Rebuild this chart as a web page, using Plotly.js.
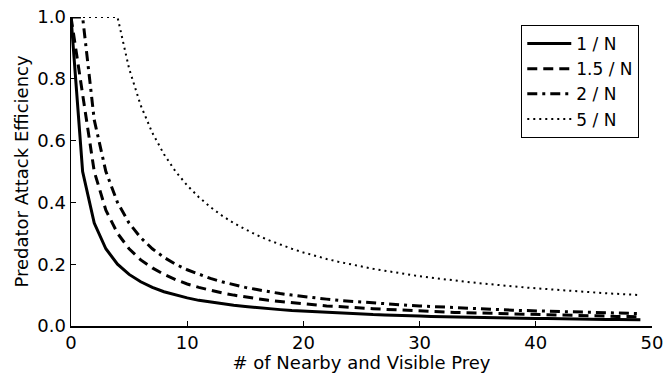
<!DOCTYPE html>
<html>
<head>
<meta charset="utf-8">
<script src="https://cdn.plot.ly/plotly-3.0.1.min.js"></script>
<style>html,body{margin:0;padding:0;background:#fff;}#chart{width:664px;height:373px;}</style>
</head>
<body>
<div id="chart"></div>
<script>
const preyCount = [0,1,2,3,4,5,6,7,8,9,10,11,12,13,14,15,16,17,18,19,20,21,22,23,24,25,26,27,28,29,30,31,32,33,34,35,36,37,38,39,40,41,42,43,44,45,46,47,48,49];
const eff1 = [1,.5,.333,.25,.2,.167,.143,.125,.111,.1,.091,.083,.077,.071,.067,.063,.059,.056,.053,.05,.048,.045,.043,.042,.04,.038,.037,.036,.034,.033,.032,.031,.030,.029,.029,.028,.027,.026,.026,.025,.024,.024,.023,.023,.022,.022,.021,.021,.020,.020];
const eff15 = [1,.75,.5,.375,.3,.25,.214,.188,.167,.15,.136,.125,.115,.107,.1,.094,.088,.083,.079,.075,.071,.068,.065,.063,.06,.058,.056,.054,.052,.05,.048,.047,.045,.044,.043,.042,.041,.039,.038,.038,.037,.036,.035,.034,.033,.033,.032,.031,.031,.03];
const eff2 = [1,1,.667,.5,.4,.333,.286,.25,.222,.2,.182,.167,.154,.143,.133,.125,.118,.111,.105,.1,.095,.091,.087,.083,.08,.077,.074,.071,.069,.067,.065,.063,.061,.059,.057,.056,.054,.053,.051,.05,.049,.048,.047,.045,.044,.043,.043,.042,.041,.04];
const eff5 = [1,1,1,1,1,.833,.714,.625,.556,.5,.455,.417,.385,.357,.333,.313,.294,.278,.263,.25,.238,.227,.217,.208,.2,.192,.185,.179,.172,.167,.161,.156,.152,.147,.143,.139,.135,.132,.128,.125,.122,.119,.116,.114,.111,.109,.106,.104,.102,.1];
const seriesNames = ['1 / N','1.5 / N','2 / N','5 / N'];

const styles = [
  {dash:'solid', width:3},
  {dash:'10px,6px', width:3},
  {dash:'10px,5px,3px,5px', width:3},
  {dash:'2px,4px', width:2}
];
const ys = [eff1, eff15, eff2, eff5];
const traces = ys.map((y,i)=>({
  x: preyCount, y: y, name: seriesNames[i], type:'scatter', mode:'lines',
  line:{color:'#000', width:styles[i].width, dash:styles[i].dash},
  cliponaxis:false
}));

const font = {family:'DejaVu Sans, sans-serif', size:18, color:'#000'};
const layout = {
  width:664, height:373,
  margin:{l:71, r:12, t:17, b:47, pad:0},
  paper_bgcolor:'#fff', plot_bgcolor:'#fff',
  font: font,
  showlegend:true,
  legend:{x:0.775, y:0.974, xanchor:'left', yanchor:'top', bordercolor:'#000', borderwidth:1,
          bgcolor:'#fff', itemwidth:44, font:{family:'DejaVu Sans, sans-serif', size:17, color:'#000'}, tracegroupgap:0},
  xaxis:{range:[0,50], showgrid:false, zeroline:false, showline:true, linecolor:'#000', linewidth:1.5,
         mirror:false, ticks:'inside', ticklen:5, tickcolor:'#000', dtick:10, tick0:0,
         title:{text:'# of Nearby and Visible Prey', font:font, standoff:0}, tickfont:font},
  yaxis:{range:[0,1], showgrid:false, zeroline:false, showline:true, linecolor:'#000', linewidth:1.5,
         mirror:false, ticks:'inside', ticklen:5, tickcolor:'#000', dtick:0.2, tick0:0, tickformat:'.1f',
         title:{text:'Predator Attack Efficiency', font:font, standoff:4}, tickfont:font}
};
Plotly.newPlot('chart', traces, layout, {displayModeBar:false, staticPlot:true});
</script>
</body>
</html>
